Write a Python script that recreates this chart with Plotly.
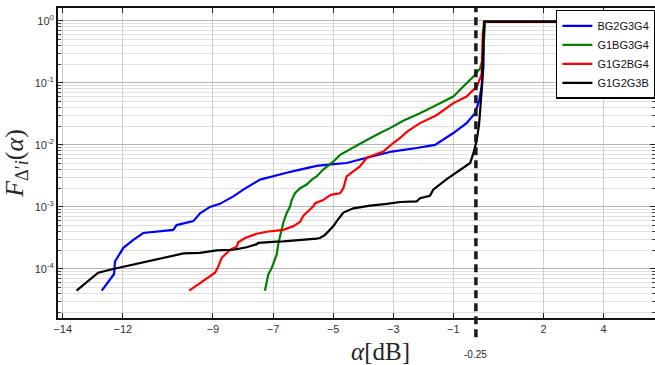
import plotly.graph_objects as go

# ---------------- data ----------------
names = ["BG2G3G4", "G1BG3G4", "G1G2BG4", "G1G2G3B"]
colors = ["#0000ff", "#008000", "#ff0000", "#000000"]

blue_x = [-12.70, -12.29, -12.26, -12.03, -11.98, -11.65, -11.32, -10.32, -10.21, -9.65, -9.43, -9.10,
          -8.77, -8.32, -7.99, -7.43, -6.99, -6.55, -6.10, -5.55, -4.99, -4.55, -3.88, -3.44, -3.05,
          -2.22, -1.61, -1.00, -0.56, -0.28, -0.14, -0.06, 0.00, 0.02, 0.05, 5.6]
blue_y = [4.47e-5, 8.3e-5, 1.32e-4, 2.0e-4, 2.19e-4, 2.95e-4, 3.8e-4, 4.27e-4, 5.1e-4, 5.9e-4, 7.9e-4, 1.0e-3,
          1.12e-3, 1.48e-3, 1.9e-3, 2.75e-3, 3.16e-3, 3.55e-3, 3.98e-3, 4.57e-3, 4.9e-3, 5.1e-3, 6.2e-3, 6.9e-3, 7.8e-3,
          8.9e-3, 1.0e-2, 1.55e-2, 2.24e-2, 3.24e-2, 5.2e-2, 8.7e-2, 0.18, 0.63, 0.964, 0.964]

green_x = [-7.27, -7.16, -7.04, -6.88, -6.82, -6.71, -6.66, -6.55, -6.43, -6.38, -6.27, -6.10, -5.88, -5.71,
           -5.55, -5.33, -5.11, -4.99, -4.77, -4.66, -4.44, -4.22, -3.88, -3.44, -3.11, -2.67, -2.11, -1.56,
           -1.00, -0.67, -0.33, -0.11, -0.03, 0.00, 0.05, 5.6]
green_y = [4.47e-5, 8.1e-5, 1.05e-4, 1.7e-4, 2.63e-4, 4.27e-4, 5.5e-4, 7.9e-4, 1.02e-3, 1.29e-3, 1.66e-3, 2.0e-3,
           2.29e-3, 2.75e-3, 3.1e-3, 4.0e-3, 4.8e-3, 5.4e-3, 6.9e-3, 7.4e-3, 8.3e-3, 9.8e-3, 1.2e-2, 1.55e-2,
           1.86e-2, 2.45e-2, 3.24e-2, 4.4e-2, 6.0e-2, 8.7e-2, 0.126, 0.17, 0.234, 0.30, 0.964, 0.964]

red_x = [-9.79, -8.93, -8.82, -8.71, -8.43, -8.21, -8.16, -7.93, -7.54, -7.21, -6.66, -6.32, -6.10, -5.99,
         -5.83, -5.66, -5.60, -5.33, -5.16, -5.05, -4.77, -4.66, -4.55, -4.33, -4.11, -3.88, -3.77, -3.33,
         -3.00, -2.77, -2.55, -2.11, -1.56, -1.00, -0.56, -0.22, -0.06, -0.02, 0.05, 5.6]
red_y = [4.47e-5, 8.7e-5, 1.1e-4, 1.51e-4, 2.04e-4, 2.29e-4, 2.69e-4, 3.16e-4, 3.7e-4, 3.98e-4, 4.27e-4, 4.9e-4,
         5.75e-4, 7.2e-4, 8.5e-4, 1.02e-3, 1.15e-3, 1.29e-3, 1.48e-3, 1.58e-3, 1.66e-3, 2.0e-3, 3.1e-3, 3.7e-3,
         4.5e-3, 6.2e-3, 6.5e-3, 7.8e-3, 1.07e-2, 1.29e-2, 1.62e-2, 2.24e-2, 3.0e-2, 4.7e-2, 6.0e-2, 8.7e-2,
         0.135, 0.63, 0.964, 0.964]

black_x = [-13.54, -12.82, -12.32, -11.20, -10.76, -9.98, -9.43, -8.88, -8.32, -7.88, -7.54, -7.49, -6.88,
           -6.66, -5.55, -5.44, -5.27, -5.11, -4.99, -4.88, -4.66, -4.33, -3.77, -3.22, -2.77, -2.22, -2.11,
           -1.78, -1.67, -1.22, -1.00, -0.67, -0.44, -0.33, -0.22, -0.14, -0.09, -0.04, -0.02, 0.00, 0.02, 5.6]
black_y = [4.47e-5, 8.7e-5, 1.0e-4, 1.32e-4, 1.45e-4, 1.78e-4, 1.82e-4, 2.0e-4, 2.04e-4, 2.24e-4, 2.51e-4,
           2.63e-4, 2.75e-4, 2.79e-4, 3.09e-4, 3.16e-4, 3.55e-4, 4.27e-4, 4.9e-4, 5.9e-4, 8.1e-4, 9.5e-4,
           1.05e-3, 1.12e-3, 1.2e-3, 1.23e-3, 1.38e-3, 1.51e-3, 1.9e-3, 2.8e-3, 3.3e-3, 4.2e-3, 5.1e-3, 7.4e-3,
           1.2e-2, 2.24e-2, 4.2e-2, 9.8e-2, 0.234, 0.63, 0.964, 0.964]

x_ticks = [-14, -12, -9, -7, -5, -3, -1, 2, 4]
y_ticks = [1e0, 1e-1, 1e-2, 1e-3, 1e-4]
y_ticktext = ["10<sup>0</sup>", "10<sup>-1</sup>", "10<sup>-2</sup>", "10<sup>-3</sup>", "10<sup>-4</sup>"]
y_minor = [m * 10.0 ** e for e in range(-5, 1) for m in range(2, 10)]
threshold = -0.25
threshold_label = "-0.25"

# ---------------- figure ----------------
fig = go.Figure()
series = [(blue_x, blue_y), (green_x, green_y), (red_x, red_y), (black_x, black_y)]
for (xs, ys), nm, col in zip(series, names, colors):
    fig.add_trace(go.Scatter(x=xs, y=ys, mode="lines", name=nm,
                             line=dict(color=col, width=2.2)))

fig.add_shape(type="line", xref="x", yref="paper", x0=threshold, x1=threshold, y0=-0.062, y1=1.0,
              line=dict(color="#1a1a1a", width=3.5, dash="8px,5px"), layer="above")

fig.add_annotation(x=threshold, xref="x", y=-0.094, yref="paper", text=threshold_label,
                   showarrow=False, yanchor="top", font=dict(family="Arial", size=10, color="#262626"))
fig.add_annotation(x=0.54, xref="paper", y=-0.108, yref="paper", text="<i>α</i>[dB]",
                   showarrow=False, yanchor="middle",
                   font=dict(family="Liberation Serif", size=25, color="#262626"))

tickfont = dict(family="Arial", size=11, color="#333333")
fig.update_xaxes(type="linear", range=[-14.156, 5.71], tickmode="array", tickvals=x_ticks,
                 tickfont=tickfont, ticks="inside", ticklen=5, tickwidth=1.2, tickcolor="#222",
                 showline=True, linewidth=2, linecolor="#111", mirror="ticks",
                 showgrid=True, gridcolor="#cfcfcf", gridwidth=1, zeroline=False)
fig.update_yaxes(type="log", range=[-4.79, 0.205], tickmode="array", tickvals=y_ticks, ticktext=y_ticktext,
                 tickfont=tickfont, ticks="inside", ticklen=5, tickwidth=1.2, tickcolor="#222",
                 showline=True, linewidth=2, linecolor="#111", mirror="ticks",
                 showgrid=True, gridcolor="#b4b4b4", gridwidth=1, zeroline=False,
                 minor=dict(tickmode="array", tickvals=y_minor, ticks="inside", ticklen=3,
                            tickcolor="#444", showgrid=True, gridcolor="#e0e0e0", gridwidth=1),
                 title=dict(text="<i>F</i><sub>Δ′<i>i</i></sub>(<i>α</i>)",
                            font=dict(family="Liberation Serif", size=26, color="#262626"), standoff=6))

fig.update_layout(
    width=655, height=365,
    margin=dict(l=58, r=0, t=8, b=47, autoexpand=False),
    paper_bgcolor="white", plot_bgcolor="white",
    showlegend=True,
    legend=dict(x=0.834, y=0.994, xanchor="left", yanchor="top",
                bgcolor="white", bordercolor="#000", borderwidth=1.5,
                font=dict(family="Arial", size=11, color="#111"),
                tracegroupgap=0, itemwidth=30),
)

fig.write_html("out.html")
